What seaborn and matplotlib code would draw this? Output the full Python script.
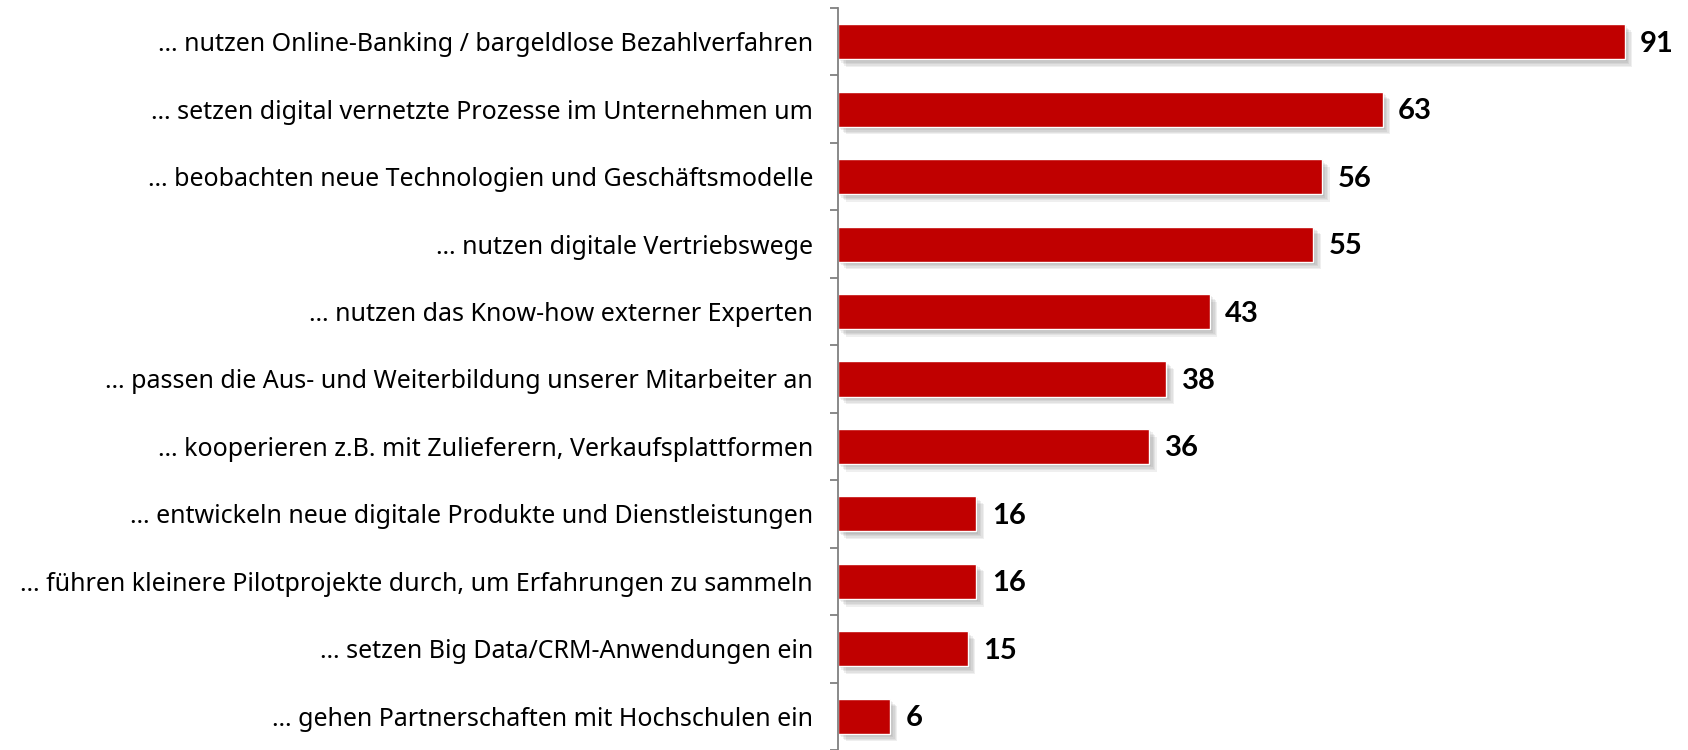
import numpy as np
import pandas as pd
import seaborn as sns
import matplotlib.pyplot as plt
import matplotlib.patheffects as pe

labels = [
    "… nutzen Online-Banking / bargeldlose Bezahlverfahren",
    "… setzen digital vernetzte Prozesse im Unternehmen um",
    "… beobachten neue Technologien und Geschäftsmodelle",
    "… nutzen digitale Vertriebswege",
    "… nutzen das Know-how externer Experten",
    "… passen die Aus- und Weiterbildung unserer Mitarbeiter an",
    "… kooperieren z.B. mit Zulieferern, Verkaufsplattformen",
    "… entwickeln neue digitale Produkte und Dienstleistungen",
    "… führen kleinere Pilotprojekte durch, um Erfahrungen zu sammeln",
    "… setzen Big Data/CRM-Anwendungen ein",
    "… gehen Partnerschaften mit Hochschulen ein",
]
values = [91, 63, 56, 55, 43, 38, 36, 16, 16, 15, 6]

df = pd.DataFrame({"label": labels, "value": values})

sns.set_theme(style="white")
plt.rcParams['font.family'] = ['Noto Sans', 'DejaVu Sans']

W, H = 1688, 750
fig = plt.figure(figsize=(W / 100, H / 100), dpi=100)
ax = fig.add_axes([838 / W, 0, 847 / W, (750 - 8) / H])

sns.barplot(data=df, x="value", y="label", orient="h", color="#C00000",
            width=0.52, saturation=1, ax=ax)

# soft drop shadow, built from a few faint offset copies
shadow = [pe.SimplePatchShadow(offset=(d, -d), shadow_rgbFace="#555555", alpha=0.09)
          for d in (1.5, 2.5, 3.5, 4.5, 5.5)]
for p in ax.patches:
    p.set_path_effects(shadow + [pe.Normal()])

ax.set_xlim(0, 98)
ax.set_ylim(10.40, -0.5)

for i, v in enumerate(values):
    ax.text(v + 1.8, i + 0.03, str(v), va="center", ha="left", fontsize=21,
            fontweight="bold", color="black", family=["Lato", "DejaVu Sans"])

for s in ["top", "right", "bottom"]:
    ax.spines[s].set_visible(False)
ax.spines["left"].set_color("#808080")
ax.spines["left"].set_linewidth(1.3)

ax.set_xticks([])
ax.set_yticks(range(len(labels)))
ax.set_yticklabels(labels, fontsize=18, color="black")
ax.tick_params(axis="y", which="major", length=0, pad=18)
ax.set_yticks(np.arange(-0.5, len(labels), 1.0), minor=True)
ax.tick_params(axis="y", which="minor", length=6, width=1.3, color="#808080", left=True)
ax.set_xlabel("")
ax.set_ylabel("")

fig.savefig("out.png", dpi=100)
